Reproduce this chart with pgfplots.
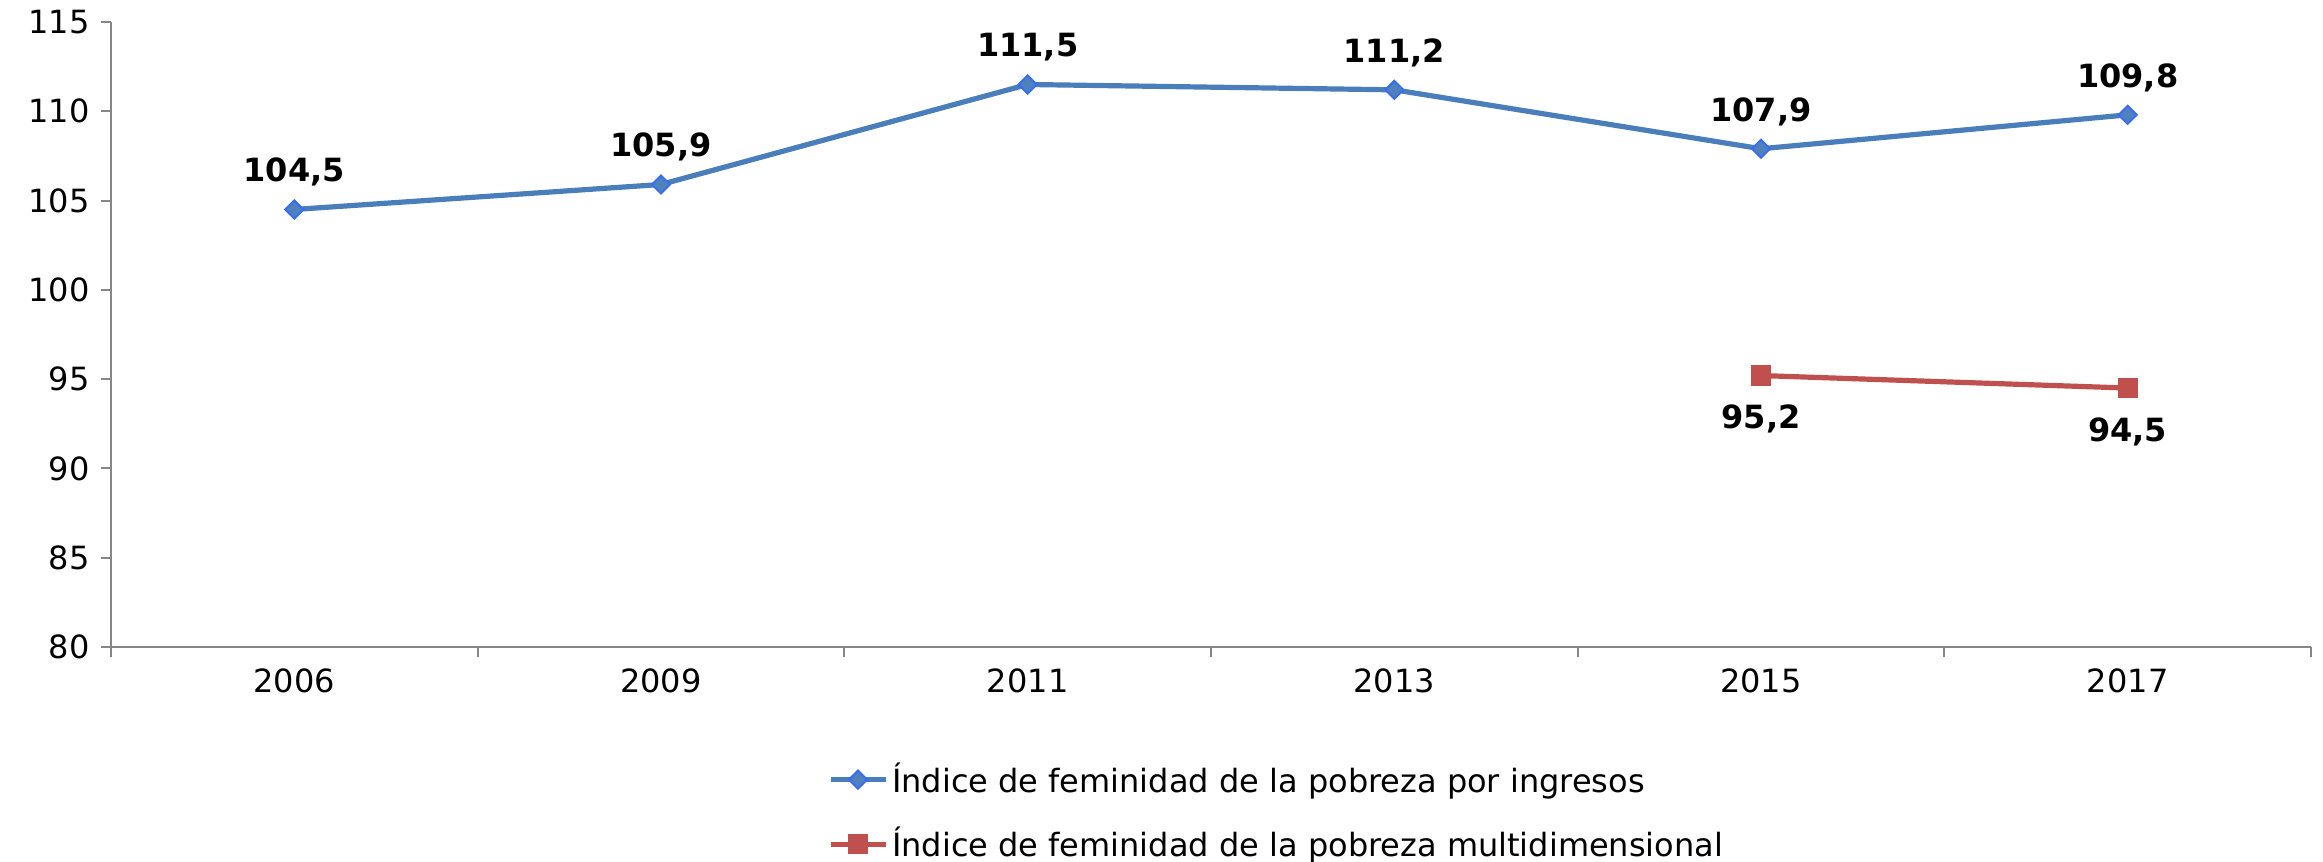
\documentclass[border=0pt]{standalone}
\usepackage{fontspec}
\setmainfont{DejaVu Sans}
\usepackage{pgfplots}
\pgfplotsset{compat=1.18}
\definecolor{lblue}{HTML}{4A7EBB}
\definecolor{mblue}{HTML}{4F81BD}
\definecolor{mborder}{HTML}{3A6CF0}
\definecolor{lred}{HTML}{C0504D}
\definecolor{axgray}{HTML}{868686}
\begin{document}
\fontsize{8}{9.6}\selectfont
\begin{tikzpicture}
\useasboundingbox (0,0) rectangle (580.75pt,215.5pt);
\begin{axis}[
  at={(27.75pt,53.75pt)}, anchor=south west,
  scale only axis, width=550pt, height=156.25pt,
  xmin=-0.5, xmax=5.5, ymin=80, ymax=115,
  axis x line*=bottom, axis y line*=left,
  axis line style={axgray, line width=0.6pt},
  xtick={0,1,2,3,4,5},
  xticklabels={2006,2009,2011,2013,2015,2017},
  major x tick style={draw=none},
  minor xtick={-0.5,0.5,1.5,2.5,3.5,4.5,5.5},
  ytick={80,85,90,95,100,105,110,115},
  tick align=outside,
  major tick length=2.5pt, minor tick length=2.5pt,
  tick style={axgray, line width=0.5pt},
  tick label style={font=\fontsize{8}{9.6}\selectfont, black},
  /pgf/number format/assume math mode=true,
  clip=false,
  legend style={at={(0.3255,-0.177)}, anchor=north west, draw=none, fill=none,
    font=\fontsize{8}{9.6}\selectfont, inner sep=0pt, row sep=5.5pt,
    nodes={inner sep=1pt}},
  legend cell align=left,
  legend image code/.code={\draw[#1, mark repeat=2, mark phase=2] plot coordinates {(0pt,0pt) (6.875pt,0pt) (13.75pt,0pt)};},
  nodes near coords,
  nodes near coords style={font=\bfseries\fontsize{8}{9.6}\selectfont, black,
    /pgf/number format/use comma, /pgf/number format/fixed,
    /pgf/number format/fixed zerofill, /pgf/number format/precision=1},
]
\addplot[lblue, line width=1.3pt, mark=square*, mark size=1.6pt,
  mark options={fill=mblue, draw=mborder, line width=0.5pt, rotate=45},
  every node near coord/.append style={anchor=south, yshift=2.85pt}]
  coordinates {(0,104.5) (1,105.9) (2,111.5) (3,111.2) (4,107.9) (5,109.8)};
\addlegendentry{Índice de feminidad de la pobreza por ingresos}
\addplot[lred, line width=1.3pt, mark=square*, mark size=2.4pt,
  mark options={fill=lred, draw=lred, line width=0pt},
  every node near coord/.append style={anchor=north, yshift=-4.75pt}]
  coordinates {(4,95.2) (5,94.5)};
\addlegendentry{Índice de feminidad de la pobreza multidimensional}
\end{axis}
\end{tikzpicture}
\end{document}
